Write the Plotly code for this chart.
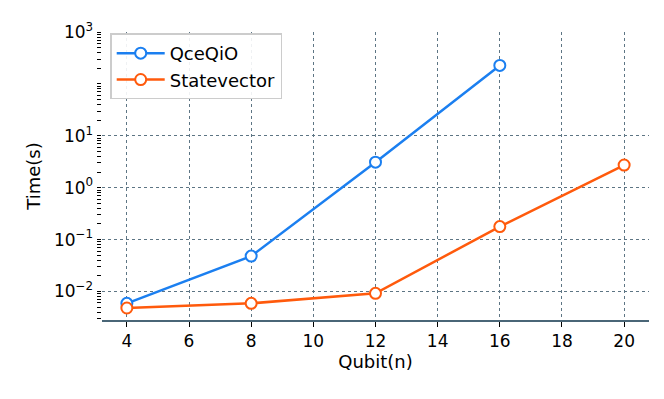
import plotly.graph_objects as go

qubits_qceqio = [4, 8, 12, 16]
time_qceqio = [0.0059, 0.048, 3.1, 227]

qubits_sv = [4, 8, 12, 16, 20]
time_sv = [0.0048, 0.0059, 0.0092, 0.178, 2.73]

ytick_vals = [1e-2, 1e-1, 1, 10, 1000]
ytick_text = ["10<sup>\u22122</sup>", "10<sup>\u22121</sup>", "10<sup>0</sup>",
              "10<sup>1</sup>", "10<sup>3</sup>"]
xtick_vals = [4, 6, 8, 10, 12, 14, 16, 18, 20]

# minor log ticks (2..9 per decade, plus the unlabelled 10^2)
minor_vals = [m * 10.0 ** e for e in range(-3, 3) for m in range(2, 10)] + [100]

# the left axis carries every tick; only the majors get a label
all_ticks = ytick_vals + minor_vals
all_text = ytick_text + [""] * len(minor_vals)

blue = "#1b7ff0"
orange = "#ff5a0c"

fig = go.Figure()
fig.add_trace(go.Scatter(
    x=qubits_qceqio, y=time_qceqio, name="QceQiO", mode="lines+markers",
    line=dict(color=blue, width=2.5),
    marker=dict(symbol="circle", size=11, color="white", line=dict(color=blue, width=2)),
))
fig.add_trace(go.Scatter(
    x=qubits_sv, y=time_sv, name="Statevector", mode="lines+markers",
    line=dict(color=orange, width=2.5),
    marker=dict(symbol="circle", size=11, color="white", line=dict(color=orange, width=2)),
))
# invisible trace that carries the grid-only axis
fig.add_trace(go.Scatter(x=[4], y=[1], xaxis="x", yaxis="y2", mode="markers",
                         marker=dict(opacity=0), showlegend=False, hoverinfo="skip"))

grid = "#5d7584"
yrange = [-2.55, 3]
# page body has an 8px margin, so the figure is shrunk and shifted to fit
fig.update_layout(
    width=656, height=391,
    margin=dict(l=94, r=15, t=19, b=79),
    paper_bgcolor="white", plot_bgcolor="white",
    font=dict(family="DejaVu Sans", size=18, color="black"),
    showlegend=True,
    legend=dict(x=0.015, y=0.995, xanchor="left", yanchor="top",
                bgcolor="rgba(255,255,255,0.9)", bordercolor="#cccccc", borderwidth=1.5,
                font=dict(size=18), tracegroupgap=2, itemwidth=48),
    xaxis=dict(
        range=[3.2, 20.8], tickvals=xtick_vals, showgrid=True, gridcolor=grid,
        griddash="dot", gridwidth=1, zeroline=False,
        showline=True, linecolor="#4a6677", linewidth=1.5,
        ticks="outside", ticklen=5, tickwidth=1.2, tickcolor="black",
        tickfont=dict(size=17),
        title=dict(text="Qubit(n)", font=dict(size=18), standoff=4),
    ),
    yaxis=dict(
        type="log", range=yrange, tickmode="array", tickvals=all_ticks, ticktext=all_text,
        showgrid=False, zeroline=False, showline=False,
        ticks="outside", ticklen=4.5, tickwidth=1.1, tickcolor="black",
        tickfont=dict(size=17),
        title=dict(text="Time(s)", font=dict(size=18), standoff=8),
    ),
    yaxis2=dict(
        type="log", range=yrange, overlaying="y", side="right", anchor="x",
        tickmode="array", tickvals=ytick_vals, showticklabels=False, ticks="",
        showgrid=True, gridcolor=grid, griddash="dot", gridwidth=1,
        zeroline=False, showline=False,
    ),
)

fig.write_html("out.html")
